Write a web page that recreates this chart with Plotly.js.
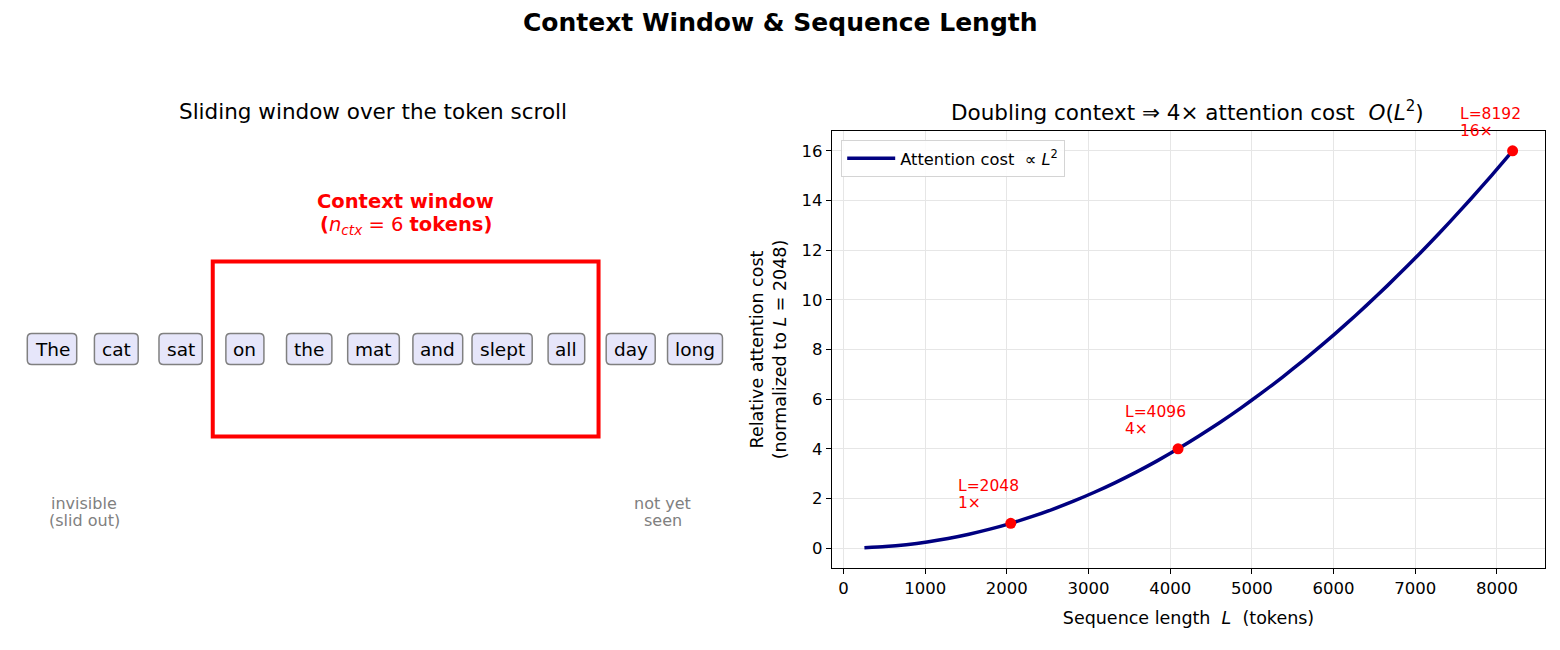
<!DOCTYPE html>
<html>
<head>
<meta charset="utf-8">
<script src="https://cdn.plot.ly/plotly-3.0.1.min.js"></script>
<style>html,body{margin:0;padding:0;background:#fff;} #chart{width:1560px;height:650px;}</style>
</head>
<body>
<div id="chart"></div>
<script>
// ---- data ----
const tokens = ["The", "cat", "sat", "on", "the", "mat", "and", "slept", "all", "day", "long"];
const windowStart = 3;   // first token index inside the window
const windowSize = 6;    // n_ctx

const seqLen = [256, 512, 768, 1024, 1280, 1536, 1792, 2048, 2304, 2560, 2816, 3072, 3328, 3584, 3840, 4096,
                4352, 4608, 4864, 5120, 5376, 5632, 5888, 6144, 6400, 6656, 6912, 7168, 7424, 7680, 7936, 8192];
const relCost = [0.0156, 0.0625, 0.1406, 0.25, 0.3906, 0.5625, 0.7656, 1.0, 1.2656, 1.5625, 1.8906, 2.25, 2.6406,
                 3.0625, 3.5156, 4.0, 4.5156, 5.0625, 5.6406, 6.25, 6.8906, 7.5625, 8.2656, 9.0, 9.7656, 10.5625,
                 11.3906, 12.25, 13.1406, 14.0625, 15.0156, 16.0];
const markL = [2048, 4096, 8192];
const markCost = [1, 4, 16];
const markLabelTop = ["L=2048", "L=4096", "L=8192"];
const markLabelBottom = ["1×", "4×", "16×"];

// ---- layout helpers ----
const FONT = "DejaVu Sans, sans-serif";
const W = 1560, H = 650;
const px = v => v / W;
const py = v => 1 - v / H;

// left panel scale: token units -> pixels
const TOK_PX = 64.3;     // pixels per token slot
const Y_PX = 175;        // pixels per y unit
const TOKEN_FONT = 18.5;

const tokenIdx = tokens.map((t, i) => i);

const traces = [
  {
    x: seqLen, y: relCost, type: "scatter", mode: "lines",
    line: {color: "#000080", width: 3.5, shape: "spline", smoothing: 0.6},
    name: "Attention cost  ∝ <i>L</i><sup>2</sup>",
    xaxis: "x", yaxis: "y", hoverinfo: "skip"
  },
  {
    x: markL, y: markCost, type: "scatter", mode: "markers",
    marker: {color: "#ff0000", size: 11},
    showlegend: false, xaxis: "x", yaxis: "y", hoverinfo: "skip"
  },
  {
    x: tokenIdx, y: tokenIdx.map(() => 0), type: "scatter", mode: "markers",
    marker: {opacity: 0}, showlegend: false, xaxis: "x2", yaxis: "y2", hoverinfo: "skip"
  }
];

const annotations = [];
// figure title
annotations.push({text: "<b>Context Window & Sequence Length</b>", xref: "paper", yref: "paper",
  x: 0.5, y: py(23), xanchor: "center", yanchor: "middle", showarrow: false,
  font: {family: FONT, size: 25, color: "#000"}});
// subplot titles
annotations.push({text: "Sliding window over the token scroll", xref: "paper", yref: "paper",
  x: px(373), y: py(112), xanchor: "center", yanchor: "middle", showarrow: false,
  font: {family: FONT, size: 21.5, color: "#000"}});
annotations.push({text: "Doubling context ⇒ 4× attention cost  <i>O</i>(<i>L</i><sup>2</sup>)", xref: "paper", yref: "paper",
  x: px(1187), y: py(111), xanchor: "center", yanchor: "middle", showarrow: false,
  font: {family: FONT, size: 21.5, color: "#000"}});

// token boxes (rounded) sized from the text width
const cv = document.createElement("canvas").getContext("2d");
cv.font = TOKEN_FONT + "px 'DejaVu Sans'";
const shapes = [];
tokens.forEach((t, i) => {
  const w = cv.measureText(t).width;
  const hw = (w / 2 + 7.5) / TOK_PX, hh = 15.5 / Y_PX;
  const rx = 4.5 / TOK_PX, ry = 4.5 / Y_PX;
  const x0 = i - hw, x1 = i + hw, y0 = -hh, y1 = hh;
  const path = `M ${x0 + rx},${y0} L ${x1 - rx},${y0} Q ${x1},${y0} ${x1},${y0 + ry} L ${x1},${y1 - ry} ` +
               `Q ${x1},${y1} ${x1 - rx},${y1} L ${x0 + rx},${y1} Q ${x0},${y1} ${x0},${y1 - ry} ` +
               `L ${x0},${y0 + ry} Q ${x0},${y0} ${x0 + rx},${y0} Z`;
  shapes.push({type: "path", xref: "x2", yref: "y2", path: path,
    fillcolor: "#e6e6fa", line: {color: "#808080", width: 1.5}, layer: "above"});
  annotations.push({text: t, x: i, y: 0, xref: "x2", yref: "y2", showarrow: false,
    xanchor: "center", yanchor: "middle", yshift: 0,
    font: {family: FONT, size: TOKEN_FONT, color: "#000"}});
});
// context window rectangle
shapes.push({type: "rect", xref: "x2", yref: "y2", x0: windowStart - 0.5, x1: windowStart + windowSize - 0.5,
   y0: -0.5, y1: 0.5, line: {color: "#ff0000", width: 4}, fillcolor: "rgba(0,0,0,0)", layer: "above"});

// context window label
annotations.push({text: "<b>Context window</b>", x: windowStart + (windowSize - 1) / 2, y: (349 - 201) / Y_PX,
  xref: "x2", yref: "y2", showarrow: false, xanchor: "center", yanchor: "middle",
  font: {family: FONT, size: 19.5, color: "#ff0000"}});
annotations.push({text: "<b>(</b><i>n<sub>ctx</sub></i> = 6 <b>tokens)</b>", x: windowStart + (windowSize - 1) / 2, y: (349 - 225) / Y_PX,
  xref: "x2", yref: "y2", showarrow: false, xanchor: "center", yanchor: "middle",
  font: {family: FONT, size: 19.5, color: "#ff0000"}});
// gray notes
[["invisible", 503], ["(slid out)", 520]].forEach(([t, yy]) => annotations.push({text: t,
  x: windowStart - 2.5, y: (349 - yy) / Y_PX, xref: "x2", yref: "y2",
  showarrow: false, xanchor: "center", yanchor: "middle",
  font: {family: FONT, size: 16, color: "#808080"}}));
[["not yet", 503], ["seen", 520]].forEach(([t, yy]) => annotations.push({text: t,
  x: windowStart + windowSize + 0.5, y: (349 - yy) / Y_PX, xref: "x2", yref: "y2",
  showarrow: false, xanchor: "center", yanchor: "middle",
  font: {family: FONT, size: 16, color: "#808080"}}));
// point labels
markL.forEach((L, i) => {
  annotations.push({text: markLabelTop[i], x: L, y: markCost[i], xref: "x", yref: "y", showarrow: false,
    xanchor: "left", yanchor: "middle", xshift: -55, yshift: 37,
    font: {family: FONT, size: 15.5, color: "#ff0000"}});
  annotations.push({text: markLabelBottom[i], x: L, y: markCost[i], xref: "x", yref: "y", showarrow: false,
    xanchor: "left", yanchor: "middle", xshift: -55, yshift: 20,
    font: {family: FONT, size: 15.5, color: "#ff0000"}});
});

const layout = {
  width: W, height: H,
  margin: {l: 0, r: 0, t: 0, b: 0},
  paper_bgcolor: "#fff", plot_bgcolor: "#fff",
  font: {family: FONT, size: 16, color: "#000"},
  showlegend: true,
  legend: {x: px(841), y: py(140), xref: "paper", yref: "paper", xanchor: "left", yanchor: "top",
    bgcolor: "rgba(255,255,255,0.85)", bordercolor: "#d4d4d4", borderwidth: 1.2, itemwidth: 48,
    font: {family: FONT, size: 16.3, color: "#000"}},
  xaxis: {domain: [px(832), px(1545)], range: [-140.8, 8588.8], dtick: 1000, tick0: 0,
    showline: true, linecolor: "#000", linewidth: 1.2, mirror: true,
    ticks: "outside", ticklen: 5, tickcolor: "#000", showgrid: true, gridcolor: "#e6e6e6", zeroline: false,
    tickfont: {family: FONT, size: 16.5, color: "#000"},
    title: {text: "Sequence length  <i>L</i>  (tokens)", font: {family: FONT, size: 17.5, color: "#000"}, standoff: 14},
    anchor: "y"},
  yaxis: {domain: [1 - 568 / H, 1 - 131 / H], range: [-0.8, 16.8], dtick: 2, tick0: 0,
    showline: true, linecolor: "#000", linewidth: 1.2, mirror: true,
    ticks: "outside", ticklen: 5, tickcolor: "#000", showgrid: true, gridcolor: "#e6e6e6", zeroline: false,
    tickfont: {family: FONT, size: 16.5, color: "#000"},
    title: {text: "Relative attention cost<br>(normalized to <i>L</i> = 2048)", font: {family: FONT, size: 17.5, color: "#000"}, standoff: 10},
    anchor: "x"},
  xaxis2: {domain: [0, px(740)], range: [-52 / TOK_PX, (740 - 52) / TOK_PX], visible: false, anchor: "y2", fixedrange: true},
  yaxis2: {domain: [0, 1], range: [-(650 - 349) / Y_PX, 349 / Y_PX], visible: false, anchor: "x2", fixedrange: true},
  annotations: annotations,
  shapes: shapes
};

Plotly.newPlot("chart", traces, layout, {staticPlot: true, displayModeBar: false});
</script>
</body>
</html>
